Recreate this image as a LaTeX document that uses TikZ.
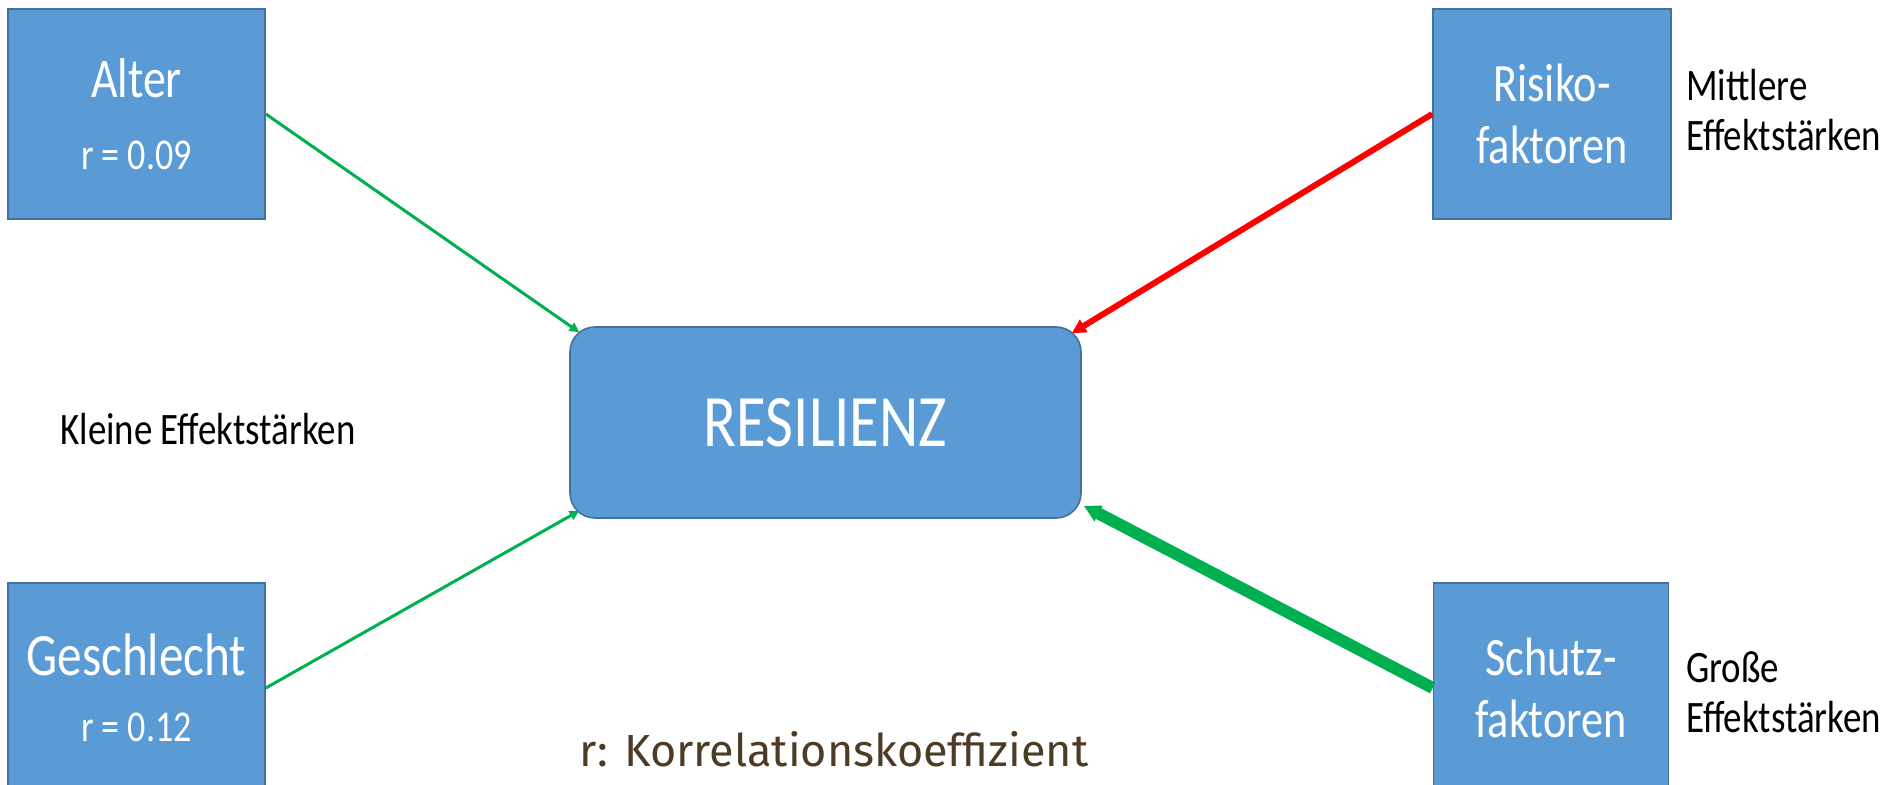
\documentclass[tikz,border=0pt]{standalone}
\usepackage{fontspec}
\setmainfont{Carlito}[FakeStretch=0.82]
\newfontfamily\capfont{Fira Sans}
\usetikzlibrary{arrows.meta,calc}
\definecolor{boxblue}{HTML}{5B9BD5}
\definecolor{boxline}{HTML}{41719C}
\definecolor{arrgreen}{HTML}{00B050}
\definecolor{arrred}{HTML}{FF0000}
\definecolor{capbrown}{HTML}{4E3B25}
\newcommand{\rline}[1]{{\fontsize{22}{36}\selectfont #1}}

\begin{document}
\begin{tikzpicture}[x=0.5pt,y=-0.5pt,
    factor/.style={draw=boxline, fill=boxblue, line width=0.8pt, text=white,
      align=center, minimum height=105pt, inner sep=0pt,
      font=\fontsize{27}{31}\selectfont},
    sidenote/.style={anchor=west, align=left, inner sep=0pt,
      font=\fontsize{22.5}{25}\selectfont},
    effect/.style={-{Triangle[length=#1*3.2, width=#1*3.2]}}]
    \useasboundingbox (0,0) rectangle (1889,785);
    \clip (0,0) rectangle (1889,785);
    % factors
    \node[factor, minimum width=128.5pt, font=\fontsize{28}{36}\selectfont]
      (alter) at (136.5,114) {Alter\\\rline{r = 0.09}};
    \node[factor, minimum width=128.5pt, font=\fontsize{30}{33}\selectfont]
      (geschlecht) at (136.5,688) {Geschlecht\\\rline{r = 0.12}};
    \node[factor, minimum width=119pt] (risiko) at (1552,114) {Risiko-\\faktoren};
    \node[factor, minimum width=117.5pt] (schutz) at (1551,688) {Schutz-\\faktoren};
    % center
    \node[factor, minimum width=255.5pt, minimum height=95.5pt, rounded corners=12.5pt,
      font=\fontsize{37}{40}\selectfont] (res) at (825.5,422.5) {RESILIENZ};
    % effect sizes
    \node[sidenote] (klein) at (60,429) {Kleine Effektstärken};
    \node[sidenote] (mittel) at (1686,110) {Mittlere\\Effektstärken};
    \node[sidenote] (gross) at (1686,692) {Große\\Effektstärken};
    \node[font=\capfont\fontsize{22.5}{27}\selectfont, text=capbrown, inner sep=0pt]
      (legende) at (834,749) {r: Korrelationskoeffizient};
    % arrows
    \draw[arrgreen, line width=1.5pt, effect=1.5pt] (alter.east) -- ($(res.north west)+(10,6)$);
    \draw[arrgreen, line width=1.5pt, effect=1.5pt] (geschlecht.east) -- ($(res.south west)+(10,-8)$);
    \draw[arrred, line width=3pt, effect=2.2pt] (risiko.west) -- ($(res.north east)+(-10,7)$);
    \draw[arrgreen, line width=6pt, effect=2.6pt] (schutz.west) -- ($(res.south east)+(2,-13)$);
\end{tikzpicture}
\end{document}
